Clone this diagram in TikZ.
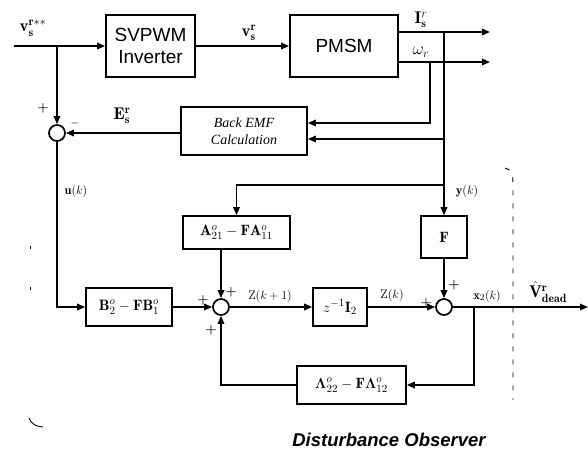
\documentclass[tikz,border=0pt]{standalone}
\usepackage{amsmath}
\usepackage{fontspec}
\newfontfamily\blockfont{Liberation Sans}
\newfontfamily\calcfont{Liberation Serif}
\usetikzlibrary{arrows.meta,calc,positioning}
\definecolor{ink}{HTML}{000000}
\tikzset{
  % ---- blocks ----------------------------------------------------
  blk/.style      = {draw=ink, line width=1.7pt, inner sep=0pt, align=center},
  sysblk/.style   = {blk, font=\blockfont\fontsize{19}{22}\selectfont},
  calcblk/.style  = {blk, font=\calcfont\itshape\fontsize{14}{17}\selectfont},
  gainblk/.style  = {blk, font=\fontsize{15}{17}\selectfont},
  sumpt/.style    = {circle, draw=ink, line width=1.7pt, minimum size=16pt,
                     inner sep=0pt},
  % ---- signals ---------------------------------------------------
  wire/.style     = {draw=ink, line width=1.7pt},
  sig/.style      = {wire, -{Triangle[length=8pt,width=6.5pt]}},
  slab/.style     = {font=\fontsize{17}{19}\selectfont, inner sep=0pt},
  kslab/.style    = {font=\fontsize{12.5}{14}\selectfont, inner sep=0pt},
  sgn/.style      = {font=\fontsize{13}{13}\selectfont\bfseries, inner sep=0pt},
  % ---- observer frame --------------------------------------------
  obs/.style      = {draw=ink, line width=0.9pt},
  ttl/.style      = {font=\blockfont\bfseries\itshape\fontsize{18.5}{20}\selectfont},
}

\begin{document}
\begin{tikzpicture}[x=1pt,y=-1pt]
  \useasboundingbox (0,0) rectangle (588,455);
  % plant
  \node[sysblk, minimum width=89pt, minimum height=62pt] (svpwm) at (150.5,46) {SVPWM\\Inverter};
  \node[sysblk, minimum width=108pt, minimum height=62pt] (pmsm) at (344,46) {PMSM};
  \node[calcblk, minimum width=126pt, minimum height=48pt] (bemf) at (244,131) {Back EMF\\Calculation};
  \node[sumpt] (s1) at (57,133) {};
  % observer
  \node[gainblk, minimum width=107pt, minimum height=33pt] (a21) at (236.5,232.5) {$\mathbf{A}_{21}^{o}-\mathbf{F}\mathbf{A}_{11}^{o}$};
  \node[gainblk, minimum width=46pt, minimum height=42pt] (fgain) at (444,237) {$\mathbf{F}$};
  \node[gainblk, minimum width=86pt, minimum height=38pt] (bgain) at (129,307) {$\mathbf{B}_{2}^{o}-\mathbf{F}\mathbf{B}_{1}^{o}$};
  \node[sumpt] (s2) at (221,307) {};
  \node[gainblk, minimum width=54pt, minimum height=38pt] (delay) at (340,307) {$z^{-1}\mathbf{I}_{2}$};
  \node[sumpt] (s3) at (444,307) {};
  \node[gainblk, minimum width=109pt, minimum height=38pt] (lgain) at (351.5,385) {$\boldsymbol{\Lambda}_{22}^{o}-\mathbf{F}\boldsymbol{\Lambda}_{12}^{o}$};
  % branch points
  \coordinate (vin) at (14,46);
  \coordinate (vtap) at (57,46);
  \coordinate (itap) at (444,32);
  \coordinate (wtap) at (430,62);
  \coordinate (iout) at (490,32);
  \coordinate (wout) at (490,62);
  \coordinate (ytap) at (444,185);
  \coordinate (xtap) at (474,307);
  \coordinate (vout) at (588,307);
  % connections
  \draw[sig] (vin) -- (svpwm);
  \draw[sig] (vtap) -- (s1);
  \draw[sig] (svpwm) -- (pmsm);
  \draw[sig] (pmsm.east |- itap) -- (iout);
  \draw[sig] (pmsm.east |- wtap) -- (wout);
  \draw[sig] (wtap) |- ([yshift=8pt]bemf.east);
  \draw[wire] (itap) -- (ytap);
  \draw[sig] ([yshift=-8pt]bemf.east -| itap) -- ([yshift=-8pt]bemf.east);
  \draw[sig] (bemf.west |- s1) -- (s1);
  \draw[sig] (ytap) -| (a21);
  \draw[sig] (ytap) -- (fgain);
  \draw[sig] (s1) |- (bgain);
  \draw[sig] (bgain) -- (s2);
  \draw[sig] (a21.south -| s2) -- (s2);
  \draw[sig] (s2) -- (delay);
  \draw[sig] (delay) -- (s3);
  \draw[sig] (fgain) -- (s3);
  \draw[sig] (s3) -- (vout);
  \draw[sig] (xtap) |- (lgain);
  \draw[sig] (lgain) -| (s2);
  % signal labels
  \node[slab] (lvin) at (33,28) {$\mathbf{v}_{\mathbf{s}}^{\mathbf{r}**}$};
  \node[slab] (lvs) at (249,33) {$\mathbf{v}_{\mathbf{s}}^{\mathbf{r}}$};
  \node[slab] (lis) at (421,20) {$\mathbf{I}_{\mathbf{s}}^{r}$};
  \node[slab] (lw) at (421,52) {$\omega_{r}$};
  \node[slab] (les) at (122,116) {$\mathbf{E}_{\mathbf{s}}^{\mathbf{r}}$};
  \node[kslab] (luk) at (76,191) {$\mathbf{u}(k)$};
  \node[kslab] (lyk) at (467,191) {$\mathbf{y}(k)$};
  \node[kslab] (lz1) at (270,296) {$\mathrm{Z}(k+1)$};
  \node[kslab] (lz) at (392,295) {$\mathrm{Z}(k)$};
  \node[kslab] (lx) at (487,296) {$\mathbf{x}_{2}(k)$};
  \node[slab] (lv) at (548,292) {$\hat{\mathbf{V}}_{\mathbf{dead}}^{\mathbf{r}}$};
  % signs
  \node[sgn] (p1) at (43,108) {+};
  \node[sgn] (m1) at (75,123) {$-$};
  \node[sgn] (p2) at (203,300) {+};
  \node[sgn] (p3) at (231,292) {+};
  \node[sgn] (p4) at (211,330) {+};
  \node[sgn] (p5) at (426,303) {+};
  \node[sgn] (p6) at (454,285) {+};
  % observer frame (faded in the original)
  \draw[obs, dash pattern=on 5pt off 8pt] (505,168) .. controls (511,169) and (513,175) .. (513,182) -- (513,400);
  \draw[obs, dash pattern=on 3pt off 38pt] (30,246) -- (30,292);
  \draw[obs] (29,418) .. controls (31,424) and (37,427) .. (43,427);
  \node[ttl] (title) at (389,440) {Disturbance Observer};
\end{tikzpicture}
\end{document}
